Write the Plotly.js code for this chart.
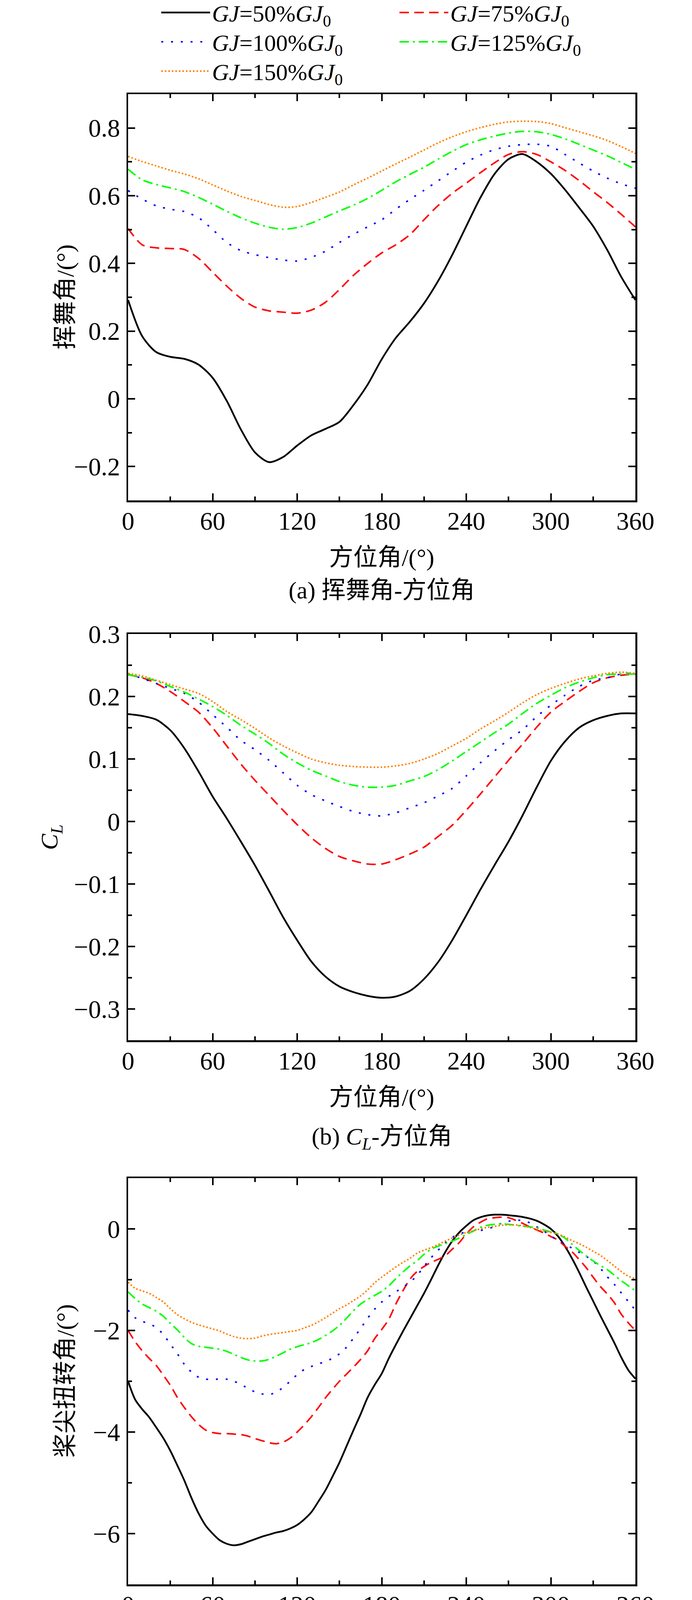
<!DOCTYPE html>
<html>
<head>
<meta charset="utf-8">
<script src="https://cdn.plot.ly/plotly-3.0.1.min.js"></script>
<style>html,body{margin:0;padding:0;background:#fff;}</style>
</head>
<body>
<div id="chart" style="width:1772px;height:5727px;"></div>
<script>
// ---------------- data ----------------
const seriesNames = [
  '<i>GJ</i>=50%<i>GJ</i><sub>0</sub>',
  '<i>GJ</i>=75%<i>GJ</i><sub>0</sub>',
  '<i>GJ</i>=100%<i>GJ</i><sub>0</sub>',
  '<i>GJ</i>=125%<i>GJ</i><sub>0</sub>',
  '<i>GJ</i>=150%<i>GJ</i><sub>0</sub>'
];

const azimuth10 = [0,10,20,30,40,50,60,70,80,90,100,110,120,130,140,150,160,170,180,190,200,210,220,230,240,250,260,270,280,290,300,310,320,330,340,350,360];
const azimuth5 = [0,5,10,15,20,25,30,35,40,45,50,55,60,65,70,75,80,85,90,95,100,105,110,115,120,125,130,135,140,145,150,155,160,165,170,175,180,185,190,195,200,205,210,215,220,225,230,235,240,245,250,255,260,265,270,275,280,285,290,295,300,305,310,315,320,325,330,335,340,345,350,355,360];

// (a) flapping angle vs azimuth
const flap50  = [0.292,0.185,0.138,0.124,0.118,0.101,0.062,-0.006,-0.090,-0.158,-0.187,-0.172,-0.138,-0.108,-0.089,-0.068,-0.018,0.042,0.117,0.180,0.228,0.282,0.348,0.425,0.510,0.594,0.664,0.708,0.723,0.700,0.665,0.618,0.565,0.510,0.440,0.360,0.292];
const flap75  = [0.503,0.455,0.446,0.444,0.441,0.415,0.374,0.333,0.297,0.271,0.260,0.256,0.253,0.262,0.285,0.323,0.365,0.400,0.431,0.455,0.485,0.529,0.571,0.607,0.637,0.668,0.697,0.722,0.730,0.722,0.700,0.675,0.645,0.612,0.580,0.545,0.508];
const flap100 = [0.615,0.590,0.570,0.560,0.553,0.535,0.500,0.462,0.438,0.426,0.417,0.410,0.407,0.418,0.436,0.462,0.486,0.508,0.529,0.560,0.589,0.616,0.644,0.672,0.699,0.720,0.736,0.746,0.751,0.752,0.746,0.722,0.697,0.673,0.652,0.635,0.622];
const flap125 = [0.678,0.647,0.633,0.623,0.612,0.595,0.575,0.554,0.535,0.519,0.507,0.501,0.506,0.519,0.537,0.555,0.572,0.592,0.616,0.641,0.663,0.684,0.708,0.731,0.751,0.765,0.776,0.785,0.790,0.789,0.781,0.768,0.752,0.735,0.718,0.698,0.678];
const flap150 = [0.716,0.701,0.688,0.675,0.664,0.650,0.632,0.614,0.598,0.586,0.574,0.566,0.568,0.580,0.595,0.611,0.632,0.652,0.673,0.694,0.714,0.735,0.756,0.774,0.789,0.801,0.811,0.818,0.820,0.819,0.813,0.801,0.789,0.777,0.763,0.745,0.725];

// (b) lift coefficient vs azimuth
const cl50  = [0.172,0.169,0.163,0.146,0.117,0.080,0.040,0.005,-0.032,-0.070,-0.111,-0.153,-0.190,-0.224,-0.248,-0.264,-0.273,-0.279,-0.282,-0.280,-0.271,-0.252,-0.225,-0.190,-0.150,-0.109,-0.070,-0.032,0.010,0.055,0.097,0.128,0.150,0.162,0.169,0.173,0.173];
const cl75  = [0.235,0.230,0.221,0.208,0.192,0.175,0.150,0.121,0.092,0.066,0.042,0.018,-0.005,-0.026,-0.043,-0.056,-0.063,-0.068,-0.068,-0.061,-0.052,-0.041,-0.024,-0.006,0.018,0.044,0.071,0.098,0.124,0.151,0.175,0.192,0.208,0.222,0.230,0.234,0.236];
const cl100 = [0.236,0.229,0.221,0.213,0.205,0.191,0.171,0.151,0.130,0.115,0.098,0.078,0.058,0.043,0.033,0.024,0.016,0.011,0.009,0.014,0.022,0.030,0.041,0.053,0.073,0.094,0.113,0.131,0.147,0.168,0.186,0.202,0.216,0.226,0.230,0.236,0.237];
const cl125 = [0.235,0.231,0.225,0.216,0.207,0.196,0.184,0.170,0.154,0.140,0.125,0.108,0.094,0.082,0.073,0.064,0.058,0.055,0.055,0.058,0.065,0.072,0.083,0.097,0.112,0.127,0.142,0.156,0.173,0.189,0.202,0.214,0.223,0.230,0.235,0.236,0.236];
const cl150 = [0.237,0.233,0.226,0.219,0.212,0.205,0.192,0.176,0.163,0.149,0.134,0.121,0.110,0.100,0.094,0.090,0.088,0.087,0.087,0.089,0.093,0.100,0.109,0.121,0.133,0.148,0.161,0.175,0.190,0.203,0.213,0.221,0.228,0.233,0.237,0.239,0.237];

// (c) blade-tip torsion angle vs azimuth
const tw50  = [-3.00,-3.36,-3.55,-3.71,-3.91,-4.12,-4.37,-4.66,-4.96,-5.30,-5.60,-5.84,-6.00,-6.13,-6.20,-6.23,-6.21,-6.16,-6.11,-6.06,-6.02,-5.98,-5.95,-5.90,-5.83,-5.72,-5.58,-5.37,-5.15,-4.88,-4.60,-4.28,-3.96,-3.65,-3.32,-3.07,-2.85,-2.55,-2.28,-2.02,-1.77,-1.52,-1.27,-1.00,-0.72,-0.46,-0.24,-0.07,0.06,0.17,0.23,0.265,0.28,0.28,0.27,0.255,0.235,0.205,0.16,0.09,0.00,-0.14,-0.34,-0.58,-0.85,-1.14,-1.42,-1.70,-1.97,-2.24,-2.53,-2.78,-2.95];
const tw75  = [-2.00,-2.22,-2.40,-2.55,-2.69,-2.88,-3.08,-3.32,-3.52,-3.70,-3.85,-3.96,-4.01,-4.03,-4.03,-4.04,-4.05,-4.08,-4.13,-4.17,-4.21,-4.23,-4.20,-4.12,-4.00,-3.86,-3.70,-3.52,-3.33,-3.16,-3.00,-2.86,-2.72,-2.57,-2.40,-2.16,-1.98,-1.78,-1.48,-1.22,-0.99,-0.84,-0.74,-0.66,-0.60,-0.53,-0.40,-0.27,-0.10,0.04,0.13,0.20,0.22,0.23,0.22,0.17,0.11,0.04,-0.02,-0.08,-0.15,-0.22,-0.34,-0.45,-0.60,-0.76,-0.95,-1.13,-1.28,-1.45,-1.68,-1.85,-2.00];
const tw100 = [-1.60,-1.75,-1.82,-1.87,-1.94,-2.08,-2.27,-2.46,-2.67,-2.82,-2.92,-2.96,-2.96,-2.96,-2.96,-3.00,-3.06,-3.14,-3.21,-3.25,-3.26,-3.22,-3.12,-3.00,-2.87,-2.77,-2.71,-2.66,-2.61,-2.55,-2.46,-2.33,-2.15,-1.96,-1.76,-1.58,-1.44,-1.33,-1.24,-1.15,-1.05,-0.92,-0.74,-0.57,-0.42,-0.28,-0.17,-0.10,-0.06,-0.05,-0.03,-0.006,0.05,0.11,0.15,0.17,0.165,0.12,0.04,-0.04,-0.14,-0.22,-0.29,-0.38,-0.46,-0.54,-0.63,-0.77,-0.94,-1.09,-1.26,-1.43,-1.60];
const tw125 = [-1.24,-1.37,-1.48,-1.55,-1.62,-1.72,-1.86,-1.99,-2.14,-2.26,-2.31,-2.33,-2.35,-2.37,-2.41,-2.47,-2.53,-2.58,-2.60,-2.60,-2.57,-2.51,-2.44,-2.37,-2.32,-2.28,-2.24,-2.18,-2.10,-2.01,-1.90,-1.76,-1.61,-1.48,-1.39,-1.31,-1.23,-1.12,-0.98,-0.85,-0.73,-0.63,-0.50,-0.40,-0.34,-0.29,-0.24,-0.18,-0.11,-0.04,0.03,0.07,0.09,0.10,0.09,0.07,0.055,0.04,0.02,-0.02,-0.06,-0.10,-0.18,-0.30,-0.42,-0.53,-0.63,-0.72,-0.80,-0.91,-1.02,-1.12,-1.22];
const tw150 = [-1.05,-1.17,-1.22,-1.27,-1.35,-1.44,-1.57,-1.69,-1.77,-1.84,-1.89,-1.93,-1.97,-2.01,-2.07,-2.12,-2.15,-2.16,-2.15,-2.11,-2.08,-2.06,-2.04,-2.02,-2.00,-1.95,-1.90,-1.83,-1.75,-1.66,-1.57,-1.50,-1.41,-1.32,-1.20,-1.06,-0.95,-0.85,-0.75,-0.66,-0.58,-0.48,-0.42,-0.37,-0.31,-0.24,-0.18,-0.12,-0.07,-0.04,0.00,0.03,0.05,0.07,0.08,0.08,0.06,0.03,-0.01,-0.04,-0.07,-0.10,-0.16,-0.23,-0.29,-0.36,-0.44,-0.52,-0.62,-0.73,-0.84,-0.93,-0.98];

// (d) torsion angle vs blade radial position
const radialPos = [0.2,0.2667,0.3333,0.4,0.4667,0.5333,0.6,0.6667,0.7333,0.8,0.8667,0.9333,1.0,1.0667,1.1333,1.2,1.2667,1.3333,1.4];
const rad50  = [0,-0.59,-1.17,-1.73,-2.28,-2.79,-3.30,-3.76,-4.20,-4.59,-4.93,-5.24,-5.51,-5.72,-5.91,-6.05,-6.16,-6.22,-6.24];
const rad75  = [0,-0.41,-0.80,-1.18,-1.54,-1.89,-2.24,-2.56,-2.86,-3.12,-3.36,-3.57,-3.75,-3.89,-4.03,-4.13,-4.19,-4.24,-4.24];
const rad100 = [0,-0.32,-0.62,-0.90,-1.18,-1.46,-1.72,-1.97,-2.19,-2.39,-2.58,-2.74,-2.89,-3.01,-3.11,-3.18,-3.24,-3.27,-3.28];
const rad125 = [0,-0.26,-0.51,-0.74,-0.97,-1.18,-1.39,-1.59,-1.78,-1.94,-2.09,-2.21,-2.33,-2.43,-2.50,-2.56,-2.60,-2.63,-2.63];
const rad150 = [0,-0.20,-0.39,-0.59,-0.78,-0.96,-1.13,-1.30,-1.45,-1.59,-1.72,-1.82,-1.91,-1.99,-2.05,-2.11,-2.14,-2.16,-2.17];

const panelTitles = ['(a) 挥舞角-方位角', '(b) <i>C</i><sub><i>L</i></sub>-方位角', '(c) 桨尖扭转角-方位角', '(d) 扭转角-桨叶径向位置'];
const yTitles = ['挥舞角/(°)', '<i>C</i><sub><i>L</i></sub>', '桨尖扭转角/(°)', '扭转角/(°)'];
const xTitles = ['方位角/(°)', '方位角/(°)', '方位角/(°)', '桨叶径向位置/m'];

// ---------------- styles ----------------
const W = 1772, H = 5727;
const FONT = 'Liberation Serif, "Times New Roman", "Noto Sans CJK SC", serif';
const FS_TICK = 65, FS_TITLE = 62, FS_LEG = 60;
const colors = ['#000000', '#FF0000', '#0000FF', '#00FF00', '#FF8000'];
const dashesABC = ['solid', '24px,14px', '5px,20px', '24px,10px,5px,10px', '4px,5px'];
const widthsABC = [4.5, 4, 4, 4, 4];
const dashesD = ['solid', '20px,8px,4px,8px', '14px,8px,4px,8px', '4px,16px', '12px,8px'];
const symbolsD = ['square', 'circle', 'triangle-up', 'triangle-down', 'star'];
const sizesD = [24, 27, 27, 27, 35];

// plot boxes in pixels [left, top, right, bottom]
const boxes = [
  [328, 241, 1627, 1281],
  [328, 1623, 1627, 2663],
  [328, 3016, 1627, 4056],
  [328, 4402, 1627, 5440]
];
const captionY = [1511, 2913, 4280, 5683];
const yTitleX = [167, 130, 167, 167];

function xd(b) { return [b[0] / W, b[2] / W]; }
function yd(b) { return [1 - b[3] / H, 1 - b[1] / H]; }

function axisBase(extra) {
  return Object.assign({
    showline: true, linecolor: '#000', linewidth: 4.5, mirror: 'ticks',
    ticks: 'inside', ticklen: 18, tickwidth: 4, tickcolor: '#000',
    showgrid: false, zeroline: false,
    tickfont: {family: FONT, size: FS_TICK, color: '#000'},
    ticklabelstandoff: 3,
    fixedrange: true, automargin: false
  }, extra);
}
function minor(d) {
  return {ticks: 'inside', ticklen: 10, tickwidth: 4, tickcolor: '#000', dtick: d, showgrid: false};
}

// ---------------- traces ----------------
const traces = [];
const panelABC = [
  {x: azimuth10, ys: [flap50, flap75, flap100, flap125, flap150], ax: ''},
  {x: azimuth10, ys: [cl50, cl75, cl100, cl125, cl150], ax: '2'},
  {x: azimuth5,  ys: [tw50, tw75, tw100, tw125, tw150], ax: '3'}
];
const legendIds = ['legend', 'legend2', 'legend3', 'legend4', 'legend5'];
panelABC.forEach(function(p, pi) {
  p.ys.forEach(function(y, i) {
    traces.push({
      type: 'scatter', mode: 'lines', x: p.x, y: y,
      xaxis: 'x' + p.ax, yaxis: 'y' + p.ax,
      name: seriesNames[i],
      line: {color: colors[i], width: widthsABC[i], dash: dashesABC[i], shape: 'spline', smoothing: 0.8},
      showlegend: pi === 0, legend: legendIds[i], hoverinfo: 'skip'
    });
  });
});
[rad50, rad75, rad100, rad125, rad150].forEach(function(y, i) {
  traces.push({
    type: 'scatter', mode: 'lines+markers', x: radialPos, y: y,
    xaxis: 'x4', yaxis: 'y4', name: seriesNames[i],
    line: {color: colors[i], width: 4.5, dash: dashesD[i]},
    marker: {symbol: symbolsD[i], size: sizesD[i], color: colors[i], line: {width: 0}},
    showlegend: false, hoverinfo: 'skip', cliponaxis: false
  });
});

// ---------------- layout ----------------
const layout = {
  width: W, height: H,
  margin: {l: 0, r: 0, t: 0, b: 0, autoexpand: false},
  paper_bgcolor: '#fff', plot_bgcolor: '#fff',
  font: {family: FONT, size: FS_TITLE, color: '#000'},
  showlegend: true,
  annotations: []
};

const xRanges = [[0, 360], [0, 360], [0, 360], [0.2, 1.4]];
const yRanges = [[-0.3, 0.9], [-0.35, 0.3001], [-7, 1], [-7, 0.5]];
const xDt = [[60, 30], [60, 30], [60, 30], [0.2, 0.1]];
const yDt = [[0.2, 0.1], [0.1, 0.05], [2, 1], [1, 0.5]];
const xFmt = ['', '', '', '.1f'];

for (let k = 0; k < 4; k++) {
  const s = k === 0 ? '' : String(k + 1);
  layout['xaxis' + s] = axisBase({
    domain: xd(boxes[k]), range: xRanges[k], anchor: 'y' + s,
    tick0: 0, dtick: xDt[k][0], minor: minor(xDt[k][1]), tickformat: xFmt[k],
    ticklabelstandoff: -8,
    title: {text: xTitles[k], font: {family: FONT, size: FS_TITLE}, standoff: 37}
  });
  layout['yaxis' + s] = axisBase({
    domain: yd(boxes[k]), range: yRanges[k], anchor: 'x' + s,
    tick0: 0, dtick: yDt[k][0], minor: minor(yDt[k][1])
  });
  layout.annotations.push({
    xref: 'paper', yref: 'paper', x: yTitleX[k] / W, y: 1 - (boxes[k][1] + boxes[k][3]) / 2 / H,
    xanchor: 'center', yanchor: 'middle', showarrow: false, textangle: -90,
    text: yTitles[k], font: {family: FONT, size: FS_TITLE, color: '#000'}
  });
  layout.annotations.push({
    xref: 'paper', yref: 'paper', x: (boxes[k][0] + boxes[k][2]) / 2 / W, y: 1 - captionY[k] / H,
    xanchor: 'center', yanchor: 'middle', showarrow: false,
    text: panelTitles[k], font: {family: FONT, size: FS_TITLE, color: '#000'}
  });
}

// legends (two columns, three rows) above panel (a)
const legendPos = [[408, 32], [1018, 32], [408, 107], [1018, 107], [408, 182]];
legendIds.forEach(function(id, i) {
  layout[id] = {
    x: legendPos[i][0] / W, y: 1 - legendPos[i][1] / H,
    xanchor: 'left', yanchor: 'middle', orientation: 'v',
    bgcolor: 'rgba(0,0,0,0)', borderwidth: 0,
    itemwidth: 125,
    font: {family: FONT, size: FS_LEG, color: '#000'}
  };
});

Plotly.newPlot('chart', traces, layout, {displayModeBar: false, staticPlot: true});
</script>
</body>
</html>
